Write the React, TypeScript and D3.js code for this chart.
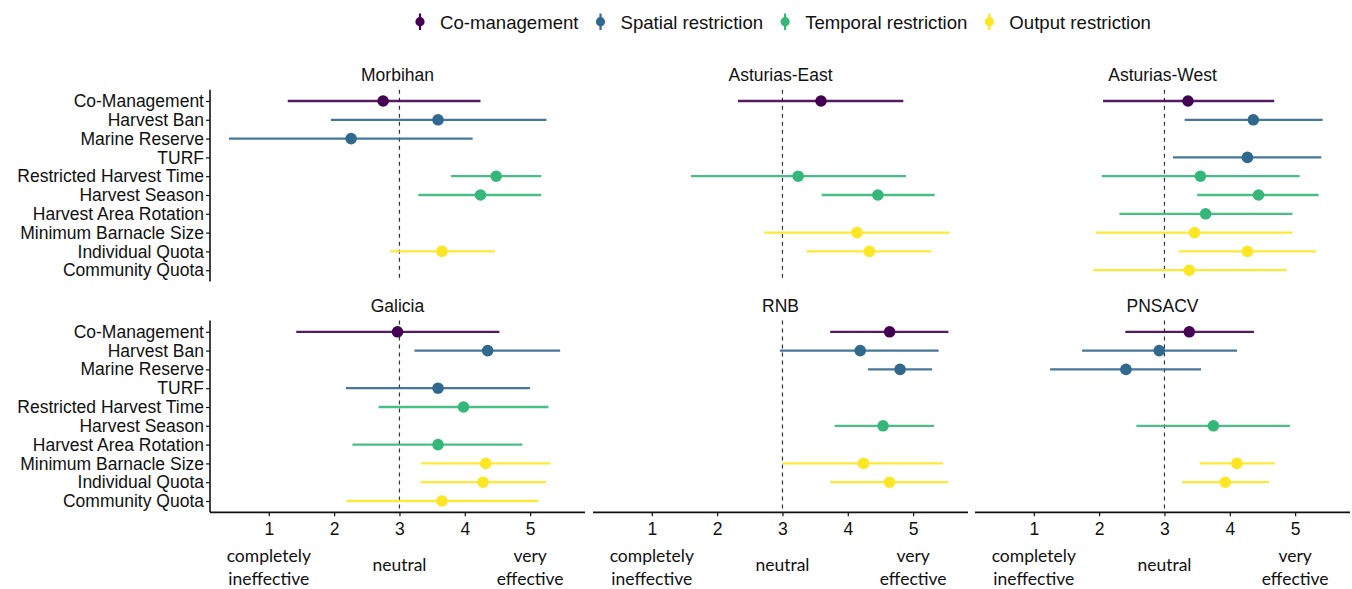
import React, { useEffect, useRef } from "react";
import * as d3 from "d3";

// Management measures shown on the y axis, top to bottom
const measures = [
  "Co-Management",
  "Harvest Ban",
  "Marine Reserve",
  "TURF",
  "Restricted Harvest Time",
  "Harvest Season",
  "Harvest Area Rotation",
  "Minimum Barnacle Size",
  "Individual Quota",
  "Community Quota",
];
// Index into `groups` for each measure
const measureGroup = [0, 1, 1, 1, 2, 2, 2, 3, 3, 3];
const groups = ["Co-management", "Spatial restriction", "Temporal restriction", "Output restriction"];
const groupColors = ["#440154", "#31688E", "#35B779", "#FDE725"];

const sites = ["Morbihan", "Asturias-East", "Asturias-West", "Galicia", "RNB", "PNSACV"];

// Mean perceived effectiveness per site (null = measure not rated there)
const meanScores: (number | null)[][] = [
  [2.75, 3.59, 2.26, null, 4.48, 4.24, null, null, 3.65, null],
  [3.59, null, null, null, 3.24, 4.46, null, 4.14, 4.33, null],
  [3.36, 4.36, null, 4.27, 3.55, 4.44, 3.63, 3.46, 4.27, 3.38],
  [2.97, 4.35, null, 3.59, 3.98, null, 3.59, 4.32, 4.28, 3.65],
  [4.64, 4.19, 4.8, null, null, 4.54, null, 4.24, 4.64, null],
  [3.38, 2.92, 2.41, null, null, 3.75, null, 4.11, 3.93, null],
];
const lowerScores: (number | null)[][] = [
  [1.29, 1.95, 0.39, null, 3.79, 3.29, null, null, 2.86, null],
  [2.32, null, null, null, 1.6, 3.6, null, 2.72, 3.37, null],
  [2.06, 3.31, null, 3.13, 2.04, 3.5, 2.31, 1.95, 3.22, 1.91],
  [1.42, 3.23, null, 2.18, 2.68, null, 2.28, 3.33, 3.32, 2.19],
  [3.73, 2.96, 4.31, null, null, 3.8, null, 3.0, 3.73, null],
  [2.4, 1.74, 1.25, null, null, 2.57, null, 3.54, 3.27, null],
];
const upperScores: (number | null)[][] = [
  [4.24, 5.25, 4.12, null, 5.17, 5.17, null, null, 4.46, null],
  [4.85, null, null, null, 4.89, 5.33, null, 5.56, 5.28, null],
  [4.68, 5.42, null, 5.4, 5.07, 5.36, 4.96, 4.96, 5.32, 4.87],
  [4.53, 5.46, null, 5.0, 5.28, null, 4.88, 5.31, 5.25, 5.13],
  [5.54, 5.39, 5.29, null, null, 5.32, null, 5.46, 5.54, null],
  [4.37, 4.11, 3.56, null, null, 4.92, null, 4.69, 4.6, null],
];

const xTicks = [1, 2, 3, 4, 5];
const neutralScore = 3;
const scaleAnchors: { value: number; lines: string[] }[] = [
  { value: 1, lines: ["completely", "ineffective"] },
  { value: 3, lines: ["neutral"] },
  { value: 5, lines: ["very", "effective"] },
];

const W = 1352;
const H = 589;
const SANS = "'Liberation Sans', Arial, sans-serif";
const HUMANIST = "Lato, 'Open Sans', sans-serif";

export default function App() {
  const ref = useRef<SVGSVGElement>(null);

  useEffect(() => {
    const svg = d3.select(ref.current);
    svg.selectAll("*").remove();

    const panelLefts = [210, 593, 975];
    const panelW = 375;
    const panelTops = [89.7, 320.5];
    const panelH = 191.8;
    const ink = "#111";

    sites.forEach((site, si) => {
      const col = si % 3;
      const row = Math.floor(si / 3);
      const x0 = panelLefts[col];
      const y0 = panelTops[row];
      const x = d3.scaleLinear().domain([0.1, 5.84]).range([x0, x0 + panelW]);
      const y = d3.scalePoint<string>().domain(measures).range([y0, y0 + panelH]).padding(0.6);

      const g = svg.append("g");

      // facet title
      g.append("text")
        .attr("x", x0 + panelW / 2)
        .attr("y", y0 - 9)
        .attr("text-anchor", "middle")
        .attr("font-family", SANS)
        .attr("font-size", 17.5)
        .attr("fill", ink)
        .text(site);

      // neutral reference line
      g.append("line")
        .attr("x1", x(neutralScore))
        .attr("x2", x(neutralScore))
        .attr("y1", y0)
        .attr("y2", y0 + panelH)
        .attr("stroke", "#333")
        .attr("stroke-width", 1.2)
        .attr("stroke-dasharray", "4,4");

      // y axis on the first column
      if (col === 0) {
        const yAxis = d3.axisLeft(y).tickSize(4).tickPadding(2);
        const ya = g.append("g").attr("transform", `translate(${x0},0)`).call(yAxis);
        ya.select(".domain").attr("stroke", ink).attr("stroke-width", 1.6).attr("d", `M0,${y0}V${y0 + panelH}`);
        ya.selectAll(".tick line").attr("stroke", ink).attr("stroke-width", 1.2);
        ya.selectAll(".tick text")
          .attr("font-family", SANS)
          .attr("font-size", 17.5)
          .attr("fill", ink);
      }

      // x axis on the bottom row
      if (row === 1) {
        const xAxis = d3.axisBottom(x).tickValues(xTicks).tickFormat(d3.format("d")).tickSize(4).tickPadding(6);
        const xa = g.append("g").attr("transform", `translate(0,${y0 + panelH})`).call(xAxis);
        xa.select(".domain").attr("stroke", ink).attr("stroke-width", 1.8).attr("d", `M${x0},0H${x0 + panelW}`);
        xa.selectAll(".tick line").attr("stroke", ink).attr("stroke-width", 1.2);
        xa.selectAll(".tick text")
          .attr("font-family", SANS)
          .attr("font-size", 17.5)
          .attr("fill", ink);

        scaleAnchors.forEach((a) => {
          const t = g.append("text")
            .attr("text-anchor", "middle")
            .attr("font-family", HUMANIST)
            .attr("font-size", 17.5)
            .attr("fill", ink);
          if (a.lines.length === 1) {
            t.append("tspan").attr("x", x(a.value)).attr("y", 571).text(a.lines[0]);
          } else {
            a.lines.forEach((ln, i) => {
              t.append("tspan").attr("x", x(a.value)).attr("y", 562 + i * 23).text(ln);
            });
          }
        });
      }

      // intervals and means
      measures.forEach((m, mi) => {
        const mean = meanScores[si][mi];
        const lo = lowerScores[si][mi];
        const hi = upperScores[si][mi];
        if (mean == null || lo == null || hi == null) return;
        const color = groupColors[measureGroup[mi]];
        const yy = y(m)!;
        g.append("line")
          .attr("x1", x(lo))
          .attr("x2", x(hi))
          .attr("y1", yy)
          .attr("y2", yy)
          .attr("stroke", color)
          .attr("stroke-opacity", 0.9)
          .attr("stroke-width", 2.3);
        g.append("circle")
          .attr("cx", x(mean))
          .attr("cy", yy)
          .attr("r", 5.8)
          .attr("fill", color);
      });
    });

    // legend across the top
    const legend = svg.append("g");
    let cursor = 0;
    const items: { g: d3.Selection<SVGGElement, unknown, null, undefined>; start: number }[] = [];
    groups.forEach((name, i) => {
      const item = legend.append("g");
      item.append("line")
        .attr("x1", 0).attr("x2", 0)
        .attr("y1", 13.5).attr("y2", 30)
        .attr("stroke", groupColors[i])
        .attr("stroke-width", 2.2);
      item.append("circle").attr("cx", 0).attr("cy", 21.7).attr("r", 4.6).attr("fill", groupColors[i]);
      const txt = item.append("text")
        .attr("x", 20)
        .attr("y", 28.5)
        .attr("font-family", SANS)
        .attr("font-size", 18.6)
        .attr("fill", ink)
        .text(name);
      const w = (txt.node() as SVGTextElement).getComputedTextLength();
      items.push({ g: item, start: cursor });
      cursor += 20 + w + 22;
    });
    const startX = 420;
    items.forEach((it) => it.g.attr("transform", `translate(${startX + it.start},0)`));
  }, []);

  return (
    <svg
      ref={ref}
      width={W}
      height={H}
      style={{ position: "absolute", left: 0, top: 0, background: "#fff" }}
    />
  );
}
